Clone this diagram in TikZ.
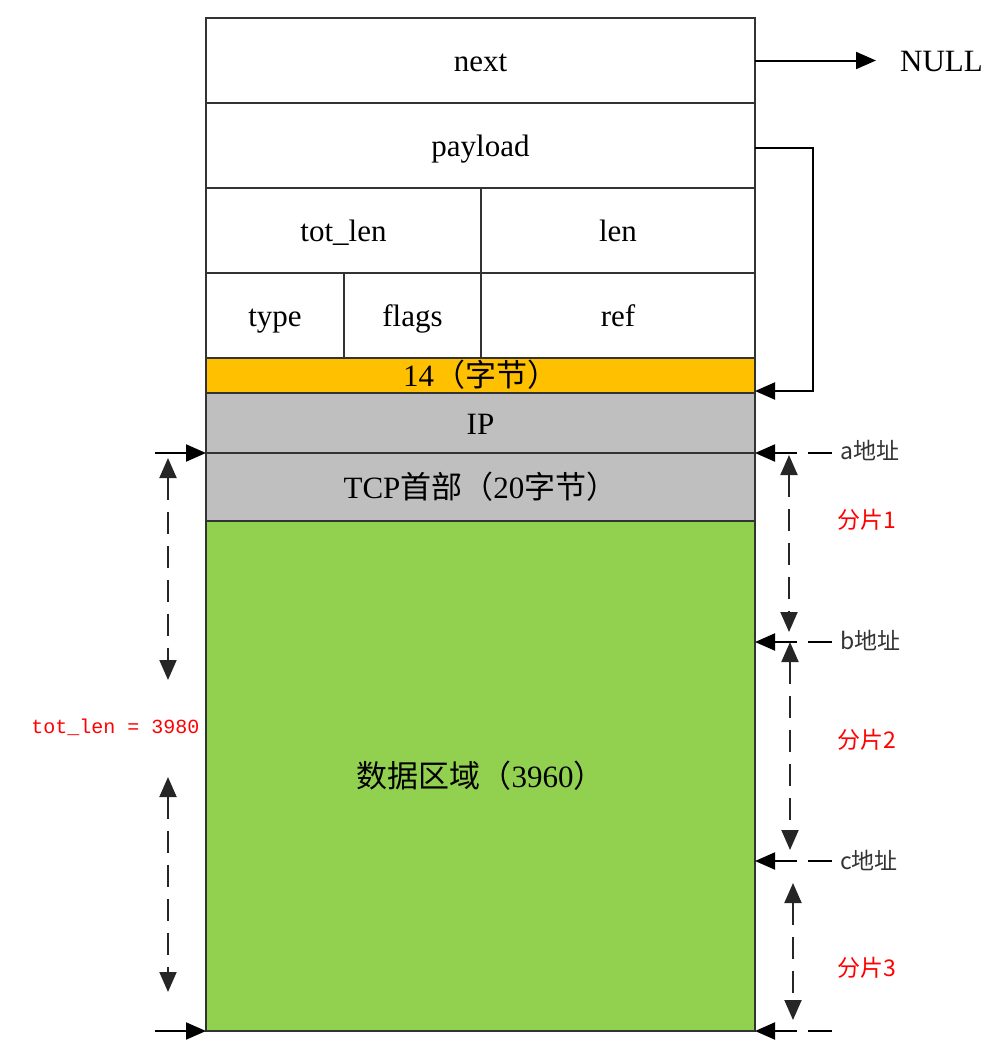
\documentclass[tikz,border=0pt]{standalone}
\usepackage{fontspec}
\setmainfont{Liberation Serif}
\newfontfamily\cjk{Noto Sans CJK SC}
\newfontfamily\monof{Liberation Mono}
\usetikzlibrary{arrows.meta}
\definecolor{boxline}{HTML}{333333}
\definecolor{orangefill}{HTML}{FFC000}
\definecolor{grayfill}{HTML}{BFBFBF}
\definecolor{greenfill}{HTML}{92D050}
\definecolor{redtext}{HTML}{FF0000}
\begin{document}
\begin{tikzpicture}[x=1pt,y=-1pt,
  cell/.style={draw=boxline, line width=2pt, rectangle, inner sep=0pt, outer sep=0pt,
    font=\fontsize{31}{34}\selectfont, text height=26pt, text depth=4pt, anchor=center},
  arr/.style={draw=black, line width=2pt, -{Triangle[length=20pt,width=17pt]}},
  dbl/.style={draw=black!85, line width=2pt, dash pattern=on 22pt off 12pt,
    {Triangle[length=20pt,width=17pt]}-{Triangle[length=20pt,width=17pt]}},
  addr/.style={draw=black, line width=2pt, dash pattern=on 24pt off 11pt,
    -{Triangle[length=20pt,width=17pt]}},
  addrlbl/.style={font=\cjk\fontsize{23}{26}\selectfont, text=black!80, inner sep=0pt, anchor=west},
  fraglbl/.style={font=\cjk\fontsize{23}{26}\selectfont, text=redtext, inner sep=0pt},
]
\useasboundingbox (0,0) rectangle (1008,1063);
% structure cells
\node[cell, minimum width=549pt, minimum height=85pt] (next) at (480.5,60.5) {next};
\node[cell, minimum width=549pt, minimum height=85pt] (payload) at (480.5,145.5) {payload};
\node[cell, minimum width=275pt, minimum height=85pt] (totlen) at (343.5,230.5) {tot\_len};
\node[cell, minimum width=274pt, minimum height=85pt] (len) at (618,230.5) {len};
\node[cell, minimum width=138pt, minimum height=85pt] (type) at (275,315.5) {type};
\node[cell, minimum width=137pt, minimum height=85pt] (flags) at (412.5,315.5) {flags};
\node[cell, minimum width=274pt, minimum height=85pt] (ref) at (618,315.5) {ref};
\node[cell, fill=orangefill, minimum width=549pt, minimum height=35pt, text height=24pt, text depth=2pt] (eth) at (480.5,375.5) {14{\cjk （字节）}};
\node[cell, fill=grayfill, minimum width=549pt, minimum height=60pt] (ip) at (480.5,423) {IP};
\node[cell, fill=grayfill, minimum width=549pt, minimum height=68pt] (tcp) at (480.5,487) {TCP{\cjk 首部（}20{\cjk 字节）}};
\node[cell, fill=greenfill, minimum width=549pt, minimum height=510pt] (data) at (480.5,776) {{\cjk 数据区域（}3960{\cjk ）}};

% NULL pointer
\node[font=\fontsize{31}{34}\selectfont, text height=26pt, text depth=4pt, inner sep=0pt, anchor=west] (null) at (900,60.5) {NULL};
\draw[arr] (next.east) -- ([xshift=-24pt]null.west);
% payload pointer
\draw[arr] (payload.east) ++(0,2) -- ++(58,0) |- ([yshift=2pt]ip.north east);

% left side
\coordinate (la) at (155,453);
\coordinate (lb) at (155,1031);
\draw[arr] (la) -- (tcp.north west);
\draw[arr] (lb) -- (data.south west);
\coordinate (l1t) at (168,458);
\coordinate (l1b) at (168,680);
\coordinate (l2t) at (168,777);
\coordinate (l2b) at (168,992);
\draw[dbl] (l1t) -- (l1b);
\draw[dbl] (l2t) -- (l2b);
\node[font=\monof\fontsize{20}{22}\selectfont, text=redtext, inner sep=0pt] (tl) at (115.5,727) {tot\_len = 3980};

% right side addresses
\coordinate (ra) at (832,453);
\coordinate (rb) at (832,642);
\coordinate (rc) at (832,861);
\coordinate (rd) at (832,1031);
\coordinate (eb) at (755,642);
\coordinate (ec) at (755,861);
\draw[addr] (ra) -- (tcp.north east);
\draw[addr] (rb) -- (eb);
\draw[addr] (rc) -- (ec);
\draw[addr] (rd) -- (data.south east);
\node[addrlbl] (la1) at (840,450) {a地址};
\node[addrlbl] (lb1) at (840,640) {b地址};
\node[addrlbl] (lc1) at (840,860) {c地址};

% fragments
\coordinate (f1t) at (789,455);
\coordinate (f1b) at (789,632);
\coordinate (f2t) at (790,642);
\coordinate (f2b) at (790,850);
\coordinate (f3t) at (793,883);
\coordinate (f3b) at (793,1020);
\draw[dbl] (f1t) -- (f1b);
\draw[dbl] (f2t) -- (f2b);
\draw[dbl] (f3t) -- (f3b);
\node[fraglbl] (s1) at (867,520) {分片1};
\node[fraglbl] (s2) at (867,740) {分片2};
\node[fraglbl] (s3) at (867,968) {分片3};
\end{tikzpicture}
\end{document}
